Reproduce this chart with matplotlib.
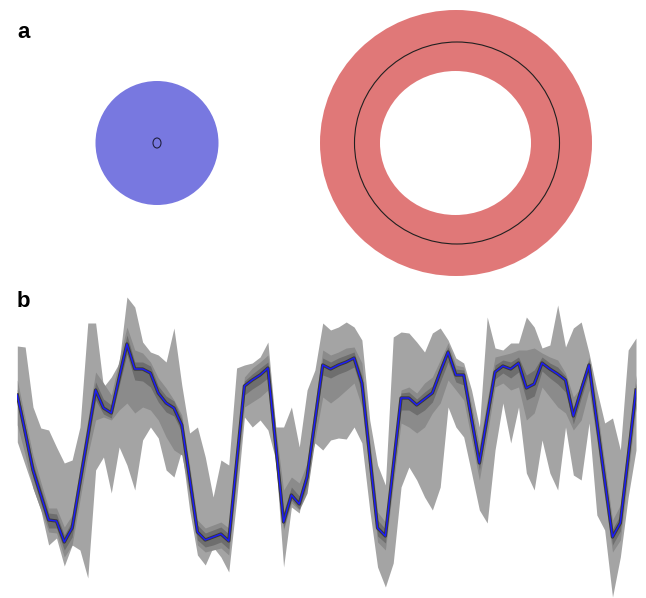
import numpy as np
import matplotlib
matplotlib.use("Agg")
import matplotlib.pyplot as plt
from matplotlib.patches import Ellipse

# panel a: shapes (pixel-like units, centre x, centre y, half width, half height)
blue_disc = (157, 143, 61.5, 62)
blue_dot = (157, 143, 4, 5)
ring_outer = (456, 143, 136, 133)
ring_inner = (455.5, 143, 75.5, 72)
ring_line = (457, 143, 102.5, 101)

# panel b: median and quantile bands, one value per time step (screen depth units)
median = [395, 432, 470, 495, 520, 521, 542, 528, 482, 436,
          390, 408, 413, 378, 344, 369, 369, 373, 393, 403,
          408, 425, 478, 532, 540, 537, 534, 541, 463, 386,
          380, 375, 368, 445, 522, 495, 504, 477, 421, 365,
          369, 365, 362, 358, 383, 456, 528, 536, 467, 398,
          398, 405, 399, 393, 372, 352, 375, 375, 419, 463,
          417, 372, 366, 369, 363, 388, 384, 363, 369, 374,
          380, 416, 390, 365, 422, 480, 537, 523, 457, 390]

outer_hi = [346, 347, 407, 428, 430, 447, 463, 460, 427, 323,
            323, 387, 377, 363, 297, 307, 342, 352, 355, 362,
            328, 385, 433, 427, 457, 497, 460, 465, 368, 365,
            363, 357, 342, 427, 427, 407, 447, 390, 370, 323,
            330, 327, 322, 327, 340, 420, 465, 485, 337, 332,
            333, 342, 352, 333, 328, 340, 358, 363, 390, 427,
            317, 348, 350, 343, 343, 317, 327, 348, 345, 305,
            347, 328, 322, 353, 390, 423, 418, 450, 350, 338]
outer_lo = [442, 465, 488, 510, 545, 538, 566, 545, 550, 578,
            470, 457, 493, 447, 465, 490, 440, 427, 438, 470,
            477, 450, 510, 555, 565, 547, 557, 572, 500, 417,
            427, 420, 430, 460, 567, 507, 513, 467, 443, 450,
            440, 438, 439, 427, 443, 510, 567, 587, 563, 487,
            467, 480, 497, 510, 487, 407, 427, 437, 473, 510,
            523, 450, 403, 443, 407, 473, 490, 440, 473, 490,
            427, 475, 480, 423, 515, 530, 597, 557, 497, 450]

mid_hi = [380, 418, 455, 482, 508, 508, 527, 515, 468, 420,
          372, 383, 395, 360, 327, 350, 353, 362, 378, 388,
          400, 415, 465, 520, 528, 525, 522, 528, 445, 377,
          368, 362, 355, 428, 490, 477, 483, 463, 405, 350,
          355, 352, 348, 347, 363, 440, 512, 522, 450, 390,
          387, 393, 383, 377, 360, 343, 365, 367, 405, 445,
          400, 357, 355, 353, 350, 350, 348, 353, 357, 360,
          373, 397, 387, 357, 405, 463, 520, 505, 440, 375]
mid_lo = [425, 455, 488, 510, 532, 533, 557, 545, 500, 455,
          420, 417, 420, 410, 403, 413, 407, 410, 420, 437,
          450, 455, 495, 545, 552, 550, 548, 555, 480, 407,
          402, 397, 390, 465, 530, 503, 510, 493, 440, 397,
          403, 397, 390, 383, 407, 475, 542, 550, 485, 423,
          427, 433, 427, 413, 403, 380, 390, 400, 440, 480,
          435, 387, 383, 390, 387, 420, 413, 387, 397, 407,
          413, 430, 420, 390, 440, 498, 552, 540, 475, 408]

inner_hi = [389, 426, 463, 488, 513, 514, 535, 521, 476, 429,
            382, 399, 405, 370, 335, 362, 362, 366, 386, 396,
            401, 419, 471, 525, 533, 530, 527, 534, 456, 381,
            374, 368, 362, 438, 512, 487, 496, 470, 414, 358,
            362, 358, 355, 352, 376, 449, 520, 529, 460, 393,
            392, 399, 392, 386, 366, 347, 369, 370, 412, 455,
            410, 365, 360, 362, 357, 375, 370, 357, 363, 367,
            376, 408, 383, 360, 415, 472, 529, 515, 450, 383]
inner_lo = [402, 440, 478, 503, 528, 528, 550, 537, 490, 444,
            400, 414, 418, 386, 354, 380, 381, 387, 402, 412,
            416, 432, 486, 540, 547, 545, 542, 549, 470, 395,
            389, 384, 378, 453, 528, 500, 509, 485, 428, 375,
            378, 374, 371, 367, 392, 463, 536, 543, 474, 410,
            410, 415, 410, 402, 382, 362, 382, 385, 428, 470,
            425, 379, 373, 378, 372, 400, 396, 371, 378, 384,
            392, 424, 398, 373, 430, 488, 545, 531, 465, 398]

t = np.arange(len(median))

fig = plt.figure(figsize=(6.46, 5.98), dpi=100)
plt.rcParams["font.family"] = ["Liberation Sans", "DejaVu Sans"]

# ---- panel a ----
ax_a = fig.add_axes([0, 318 / 598, 1, 280 / 598])
ax_a.set_xlim(0, 646)
ax_a.set_ylim(280, 0)
ax_a.axis("off")


def ell(spec, **kw):
    cx, cy, rx, ry = spec
    return Ellipse((cx, cy), 2 * rx, 2 * ry, **kw)


ax_a.add_patch(ell(blue_disc, facecolor="#7878e0", edgecolor="none"))
ax_a.add_patch(ell(blue_dot, facecolor="none", edgecolor="#202040", lw=0.8))
ax_a.add_patch(ell(ring_outer, facecolor="#e07878", edgecolor="none"))
ax_a.add_patch(ell(ring_inner, facecolor="white", edgecolor="none"))
ax_a.add_patch(ell(ring_line, facecolor="none", edgecolor="#202020", lw=0.8))

# ---- panel b ----
ax_b = fig.add_axes([17.3 / 646, 0, (636 - 17.3) / 646, 310 / 598])
ax_b.set_xlim(0, len(median) - 1)
ax_b.set_ylim(598, 288)
ax_b.axis("off")

ax_b.fill_between(t, outer_lo, outer_hi, color="#a4a4a4", lw=0)
ax_b.fill_between(t, mid_lo, mid_hi, color="#8b8b8b", lw=0)
ax_b.fill_between(t, inner_lo, inner_hi, color="#6e6e6e", lw=0)
ax_b.plot(t, median, color="#3a3a3a", lw=2.4)
ax_b.plot(t, median, color="#1a1aff", lw=1.0)

fig.text(17 / 646, 1 - 38 / 598, "a", fontsize=16, fontweight="bold")
fig.text(17 / 646, 1 - 307 / 598, "b", fontsize=16, fontweight="bold")

fig.savefig("out.png", dpi=100)
